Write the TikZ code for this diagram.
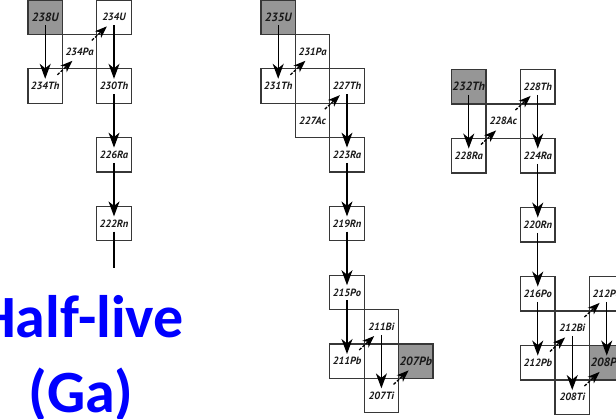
\documentclass[tikz,border=0pt]{standalone}
\usepackage{fontspec}
\newfontfamily\lblfont{PT Sans}
\newfontfamily\titlefont{Carlito}
\usetikzlibrary{arrows.meta}
\definecolor{boxline}{RGB}{55,55,55}
\definecolor{startgray}{RGB}{150,150,150}
\definecolor{titleblue}{RGB}{0,0,255}
\tikzset{
  nuc/.style={draw=boxline, line width=1.2pt, minimum size=34.4pt, inner sep=0pt, outer sep=0pt,
    text=black!90, font=\lblfont\bfseries\itshape\fontsize{10.5}{11}\selectfont},
  parent/.style={nuc, fill=startgray, font=\lblfont\bfseries\itshape\fontsize{12}{13}\selectfont},
  alphadecay/.style={-{Stealth[length=15pt,width=11pt,inset=4.5pt]}, line width=1.3pt},
  betadecay/.style={-{Stealth[length=12pt,width=9pt,inset=3.5pt]}, line width=1.3pt,
    dash pattern=on 3pt off 1.5pt},
  title/.style={text=titleblue, font=\titlefont\bfseries\fontsize{60}{72}\selectfont, inner sep=0pt}
}
% vertical alpha step and diagonal beta step between named boxes
\newcommand{\adecay}[2]{\draw[alphadecay] ([yshift=-8pt]#1.center) -- ([yshift=-10pt]#2.north);}
\newcommand{\bdecay}[2]{\draw[betadecay] ([shift={(-5pt,-6pt)}]#1.north east) -- ([shift={(10pt,8pt)}]#2.south west);}
\begin{document}
\begin{tikzpicture}[x=1pt, y=-1pt]
\useasboundingbox (0,0) rectangle (616,418);
\clip (0,0) rectangle (616,418);

% uranium-238 series
\begin{scope}[shift={(28pt,0pt)}, x=34.4pt, y=-34.4pt]
  \node[parent] (u238)  at (0.5,0.5)  {238U};
  \node[nuc]    (u234)  at (2.5,0.5)  {234U};
  \node[nuc]    (pa234) at (1.5,1.5)  {234Pa};
  \node[nuc]    (th234) at (0.5,2.5)  {234Th};
  \node[nuc]    (th230) at (2.5,2.5)  {230Th};
  \node[nuc]    (ra226) at (2.5,4.5)  {226Ra};
  \node[nuc]    (rn222) at (2.5,6.5)  {222Rn};
  \coordinate   (end1)  at (2.5,7.79);
\end{scope}
\adecay{u238}{th234}
\bdecay{th234}{pa234}
\bdecay{pa234}{u234}
\adecay{u234}{th230}
\adecay{th230}{ra226}
\adecay{ra226}{rn222}
\draw[line width=1.3pt] ([yshift=-8pt]rn222.center) -- (end1);

% uranium-235 series
\begin{scope}[shift={(261pt,0pt)}, x=34.4pt, y=-34.4pt]
  \node[parent] (u235)  at (0.5,0.5)   {235U};
  \node[nuc]    (pa231) at (1.5,1.5)   {231Pa};
  \node[nuc]    (th231) at (0.5,2.5)   {231Th};
  \node[nuc]    (th227) at (2.5,2.5)   {227Th};
  \node[nuc]    (ac227) at (1.5,3.5)   {227Ac};
  \node[nuc]    (ra223) at (2.5,4.5)   {223Ra};
  \node[nuc]    (rn219) at (2.5,6.5)   {219Rn};
  \node[nuc]    (po215) at (2.5,8.5)   {215Po};
  \node[nuc]    (bi211) at (3.5,9.5)   {211Bi};
  \node[nuc]    (pb211) at (2.5,10.5)  {211Pb};
  \node[parent] (pb207) at (4.5,10.5)  {207Pb};
  \node[nuc]    (ti207) at (3.5,11.5)  {207Ti};
\end{scope}
\adecay{u235}{th231}
\bdecay{th231}{pa231}
\bdecay{ac227}{th227}
\adecay{th227}{ra223}
\adecay{ra223}{rn219}
\adecay{rn219}{po215}
\adecay{po215}{pb211}
\bdecay{pb211}{bi211}
\adecay{bi211}{ti207}
\bdecay{ti207}{pb207}

% thorium-232 series
\begin{scope}[shift={(451.5pt,-69.5pt)}, x=34.5pt, y=-34.5pt]
  \node[parent] (th232) at (0.5,0.5)  {232Th};
  \node[nuc]    (th228) at (2.5,0.5)  {228Th};
  \node[nuc]    (ac228) at (1.5,1.5)  {228Ac};
  \node[nuc]    (ra228) at (0.5,2.5)  {228Ra};
  \node[nuc]    (ra224) at (2.5,2.5)  {224Ra};
  \node[nuc]    (rn220) at (2.5,4.5)  {220Rn};
  \node[nuc]    (po216) at (2.5,6.5)  {216Po};
  \node[nuc]    (po212) at (4.5,6.5)  {212Po};
  \node[nuc]    (bi212) at (3.5,7.5)  {212Bi};
  \node[nuc]    (pb212) at (2.5,8.5)  {212Pb};
  \node[parent] (pb208) at (4.5,8.5)  {208Pb};
  \node[nuc]    (ti208) at (3.5,9.5)  {208Ti};
\end{scope}
\adecay{th232}{ra228}
\bdecay{ra228}{ac228}
\bdecay{ac228}{th228}
\adecay{th228}{ra224}
\adecay{ra224}{rn220}
\adecay{rn220}{po216}
\adecay{po216}{pb212}
\bdecay{pb212}{bi212}
\bdecay{bi212}{po212}
\adecay{bi212}{ti208}
\adecay{po212}{pb208}
\bdecay{ti208}{pb208}

% heading
\node[title, anchor=base] (head1) at (81,337) {Half-live};
\node[title, anchor=base] (head2) at (81,412) {(Ga)};
\end{tikzpicture}
\end{document}
